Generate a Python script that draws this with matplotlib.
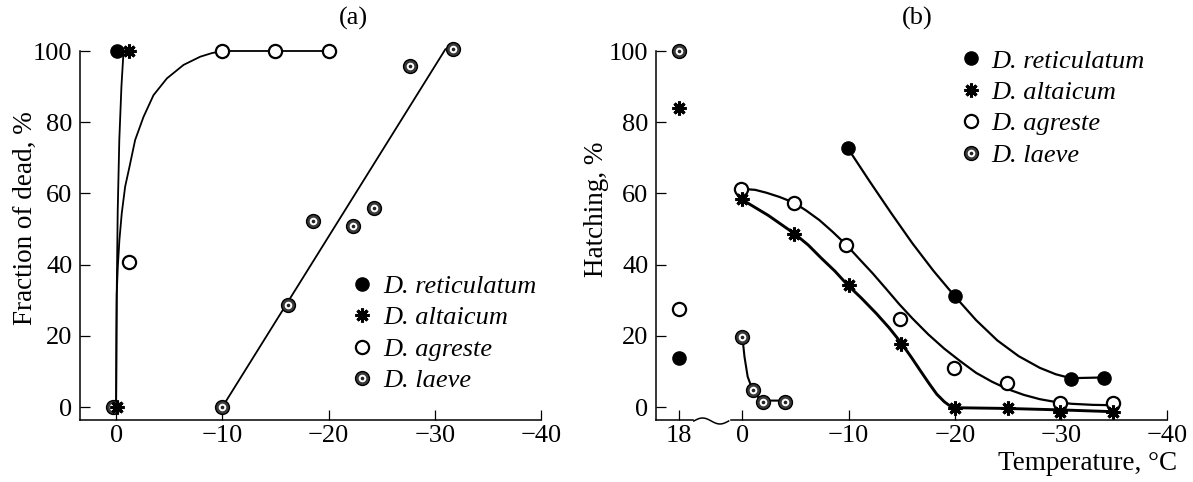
import numpy as np
import matplotlib
matplotlib.use("Agg")
import matplotlib.pyplot as plt
from matplotlib.lines import Line2D

plt.rcParams['font.family'] = ['Liberation Serif', 'DejaVu Serif']
FS = 19
FS_LAB = 19.5

#Panel (a): fraction of dead vs temperature
a_ret_x = [-0.1]
a_ret_y = [100]
a_alt_x = [-0.1, -1.2]
a_alt_y = [0, 100]
a_agr_x = [-1.2, -10, -15, -20]
a_agr_y = [40.8, 100, 100, 100]
a_lae_x = [0.3, -10, -16.2, -18.5, -22.3, -24.3, -27.7, -31.7]
a_lae_y = [0, 0, 28.7, 52.3, 50.8, 55.8, 95.8, 100.5]

#fitted curves
a_fit_ra_x = [0, -0.05, -0.15, -0.3, -0.5, -0.7]
a_fit_ra_y = [0, 30, 55, 75, 90, 100]
a_fit_agr_x = [0, -0.03, -0.06, -0.16, -0.31, -0.53, -0.85, -1.26, -1.79, -2.58, -3.52,
               -4.78, -6.35, -7.92, -9.0, -10, -15, -20]
a_fit_agr_y = [0, 20, 31.9, 39.4, 46.9, 54.4, 61.9, 67.5, 75, 81.5, 87.6,
               92.3, 96.1, 98.4, 99.4, 100, 100, 100]
a_fit_lae_x = [-10, -31]
a_fit_lae_y = [0, 100.5]

#Panel (b): hatching vs temperature (18 = control)
b_ret_t = [18, -9.9, -20, -30.9, -34.0]
b_ret_y = [13.7, 72.8, 31.2, 8.0, 8.2]
b_alt_t = [18, 0, -4.9, -10, -14.9, -20, -25, -29.9, -34.9]
b_alt_y = [84, 58.3, 48.5, 34.2, 17.7, -0.2, -0.2, -1.3, -1.3]
b_agr_t = [18, 0.15, -4.85, -9.8, -14.85, -19.9, -24.9, -29.9, -34.9]
b_agr_y = [27.4, 61.3, 57.4, 45.5, 24.6, 10.9, 6.8, 1.1, 1.1]
b_lae_t = [18, 0, -1, -1.9, -4]
b_lae_y = [100, 19.7, 4.8, 1.5, 1.5]

b_fit_ret_x = [-9.9, -12, -14, -16, -18, -20, -22, -24, -26, -28, -29.5, -30.9, -32.5, -34.0]
b_fit_ret_y = [72.8, 63.3, 54.5, 46.0, 38.2, 31.1, 24.4, 18.7, 14.3, 11.0, 9.2, 8.1, 8.2, 8.3]
b_fit_agr_x = [0.15, -1.2, -2.25, -3.5, -4.85, -6.0, -7.25, -8.5, -9.8, -11.0, -12.25, -13.5,
               -14.76, -16, -17.5, -19, -20.5, -22, -23.5, -25, -26.5, -28, -29.5, -31, -33, -34.9]
b_fit_agr_y = [61.3, 61.0, 60.2, 59.0, 57.4, 55.2, 52.5, 49.2, 45.5, 41.6, 37.6, 33.3,
               28.9, 24.9, 20.4, 16.4, 12.9, 9.6, 7.1, 5.0, 3.4, 2.2, 1.4, 0.9, 0.6, 0.5]
b_fit_alt_x = [0, -2.45, -4.9, -6.2, -7.4, -8.7, -9.9, -11.2, -12.6, -13.8, -14.9, -15.9,
               -16.8, -17.6, -18.3, -19.0, -19.5, -20, -24.8, -29.8, -34.8]
b_fit_alt_y = [58.2, 53.8, 48.7, 45.5, 41.9, 38.2, 34.3, 30.6, 26.3, 22.3, 18.2, 14.0,
               10.0, 6.5, 3.6, 1.5, 0.4, -0.2, -0.4, -0.8, -1.3]
b_fit_lae_x = [0, -0.2, -0.5, -0.94, -1.4, -1.9, -4.0]
b_fit_lae_y = [19.7, 14.1, 8.5, 5.0, 3.0, 1.8, 1.8]

names = ["D. reticulatum", "D. altaicum", "D. agreste", "D. laeve"]
WARM_POS = 6  #where the 18 degC control sits on the broken axis


def to_pos(t):
    t = np.asarray(t, dtype=float)
    return np.where(t == 18, WARM_POS, t)


#marker styles
ret_kw = dict(marker='o', ms=9.5, mfc='black', mec='black', ls='none')
alt_kw = dict(marker=(8, 2, 0), ms=10, mew=2.2, mec='black', ls='none')
agr_kw = dict(marker='o', ms=9.5, mfc='white', mec='black', mew=1.6, ls='none')
lae_layers = [dict(marker='o', ms=10, mfc='#3a3a3a', mec='black', mew=1.0, ls='none'),
              dict(marker='o', ms=5.5, mfc='white', mec='none', ls='none'),
              dict(marker='o', ms=2.6, mfc='#222222', mec='none', ls='none')]


def plot_laeve(ax, x, y):
    for kw in lae_layers:
        ax.plot(x, y, clip_on=False, zorder=5, **kw)


def legend_handles():
    h = [Line2D([], [], **ret_kw), Line2D([], [], **alt_kw), Line2D([], [], **agr_kw),
         tuple(Line2D([], [], **kw) for kw in lae_layers)]
    return h


def style_axes(ax):
    ax.spines['top'].set_visible(False)
    ax.spines['right'].set_visible(False)
    ax.spines['left'].set_linewidth(1.1)
    ax.spines['bottom'].set_linewidth(1.1)
    ax.tick_params(direction='in', length=7, width=0.9, labelsize=FS)
    ax.tick_params(axis='x', pad=3.5)
    ax.tick_params(axis='y', pad=5.5)
    ax.set_ylim(-3.65, 100)
    ax.set_yticks([0, 20, 40, 60, 80, 100])


leg_kw = dict(loc='upper left', frameon=False, handlelength=0.8, handletextpad=0.4,
              labelspacing=0.3, borderpad=0, borderaxespad=0,
              prop=dict(family='Liberation Serif', style='italic', size=FS))

fig = plt.figure(figsize=(11.93, 4.82), dpi=100)
ax1 = fig.add_axes([80/1193, 1-420/482, 461/1193, 369/482])
ax2 = fig.add_axes([656/1193, 1-420/482, 511.3/1193, 369/482])

#Panel (a)
style_axes(ax1)
ax1.set_xlim(3.4, -40)
ax1.set_xticks([0, -10, -20, -30, -40])
lw_a = 1.3
ax1.plot(a_fit_ra_x, a_fit_ra_y, color='black', lw=lw_a, clip_on=False)
ax1.plot(a_fit_agr_x, a_fit_agr_y, color='black', lw=lw_a, clip_on=False)
ax1.plot(a_fit_lae_x, a_fit_lae_y, color='black', lw=lw_a, clip_on=False)
ax1.plot(a_ret_x, a_ret_y, clip_on=False, zorder=5, **ret_kw)
ax1.plot(a_agr_x, a_agr_y, clip_on=False, zorder=5, **agr_kw)
plot_laeve(ax1, a_lae_x, a_lae_y)
ax1.plot(a_alt_x, a_alt_y, clip_on=False, zorder=6, **alt_kw)
ax1.set_ylabel("Fraction of dead, %", fontsize=FS_LAB)
ax1.yaxis.set_label_coords(-0.092, 0.547)
ax1.legend(legend_handles(), names, bbox_to_anchor=(0.589, 0.394), **leg_kw)

#Panel (b)
style_axes(ax2)
ax2.set_xlim(8.13, -40)
ax2.set_xticks([WARM_POS, 0, -10, -20, -30, -40])
ax2.set_xticklabels(["18", "0", "\u221210", "\u221220", "\u221230", "\u221240"])
ax2.spines['bottom'].set_visible(False)
#broken x axis drawn by hand
xt = ax2.get_xaxis_transform()
ax2.plot([8.13, 4.67], [0, 0], color='black', lw=1.1, transform=xt, clip_on=False)
ax2.plot([1.1, -40], [0, 0], color='black', lw=1.1, transform=xt, clip_on=False)
tw = np.linspace(0, 1, 60)
ax2.plot(4.57 + (1.29 - 4.57) * tw, -0.0027 + 0.0081 * np.sin(2 * np.pi * tw),
         color='black', lw=1.1, transform=xt, clip_on=False)

ax2.plot(b_fit_ret_x, b_fit_ret_y, color='black', lw=1.6, clip_on=False)
ax2.plot(b_fit_agr_x, b_fit_agr_y, color='black', lw=1.6, clip_on=False)
ax2.plot(b_fit_alt_x, b_fit_alt_y, color='black', lw=2.1, clip_on=False)
ax2.plot(b_fit_lae_x, b_fit_lae_y, color='black', lw=1.5, clip_on=False)
ax2.plot(to_pos(b_ret_t), b_ret_y, clip_on=False, zorder=5, **ret_kw)
ax2.plot(to_pos(b_agr_t), b_agr_y, clip_on=False, zorder=5, **agr_kw)
plot_laeve(ax2, to_pos(b_lae_t), b_lae_y)
ax2.plot(to_pos(b_alt_t), b_alt_y, clip_on=False, zorder=6, **alt_kw)
ax2.set_ylabel("Hatching, %", fontsize=FS_LAB)
ax2.yaxis.set_label_coords(-0.092, 0.572)
ax2.set_xlabel("Temperature, \u00b0C", fontsize=FS_LAB)
ax2.xaxis.label.set_ha('right')
ax2.xaxis.set_label_coords(1.019, -0.083)
ax2.legend(legend_handles(), names, bbox_to_anchor=(0.5946, 1.005), **leg_kw)

fig.text(353/1193, 1-18/482, "(a)", ha='center', va='center', fontsize=FS)
fig.text(917/1193, 1-18/482, "(b)", ha='center', va='center', fontsize=FS)

fig.savefig("out.png", dpi=100)
plt.close()
